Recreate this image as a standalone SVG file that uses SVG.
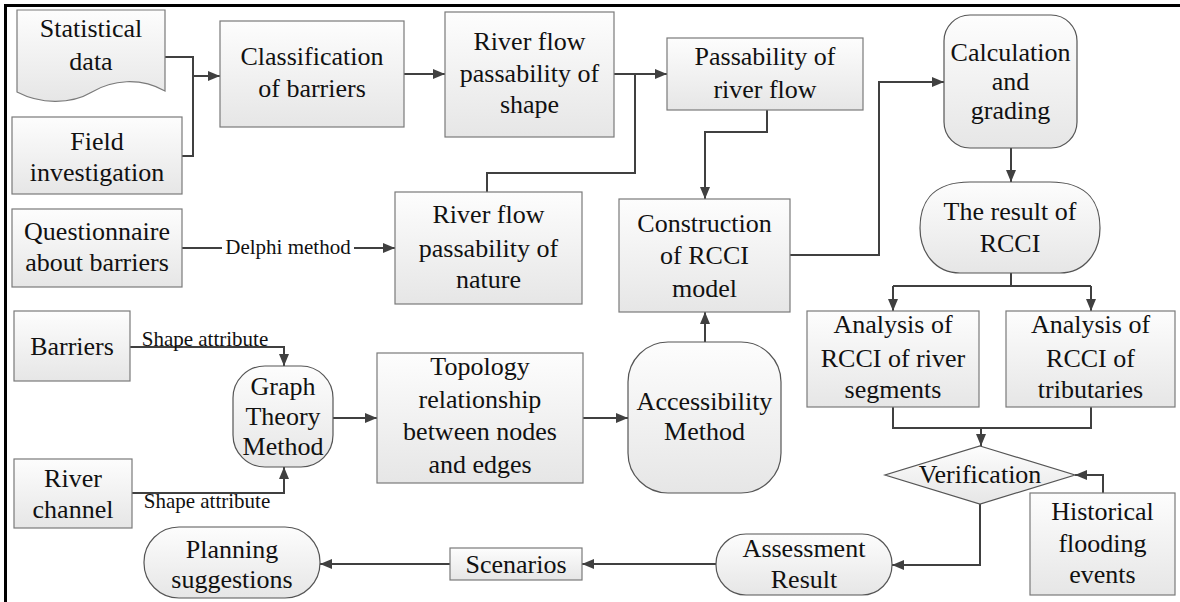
<svg xmlns="http://www.w3.org/2000/svg" width="1180" height="602" viewBox="0 0 1180 602" font-family="Liberation Serif, Times New Roman, serif">
<defs>
<linearGradient id="g" x1="0" y1="0" x2="0" y2="1">
<stop offset="0" stop-color="#fdfdfd"/>
<stop offset="1" stop-color="#e6e6e6"/>
</linearGradient>
<marker id="ah" viewBox="0 0 12 10" refX="12" refY="5" markerUnits="userSpaceOnUse" markerWidth="12" markerHeight="10" orient="auto">
<path d="M0,0 L12,5 L0,10 Z" fill="#404040"/>
</marker>
<style>
.box{fill:url(#g);stroke:#7a7a7a;stroke-width:1.2}
.rbox{fill:url(#g);stroke:#555;stroke-width:1.2}
.con{fill:none;stroke:#404040;stroke-width:2}
.arr{marker-end:url(#ah)}
</style>
</defs>
<rect width="1180" height="602" fill="#fff"/>
<path d="M5.5,602 V5.5 H1180" fill="none" stroke="#000" stroke-width="3"/>

<g id="connectors" font-size="21" fill="#111" text-anchor="middle">
<path class="con" d="M165,57 H193 V156 H182"/>
<path class="con arr" d="M193,76 H220"/>
<path class="con arr" d="M404,74 H445"/>
<path class="con arr" d="M614,74 H667"/>
<path class="con" d="M487,192 V173 H635 V74"/>
<path class="con arr" d="M767,110 V132 H705 V199"/>
<path class="con arr" d="M790,255 H879 V82 H944"/>
<path class="con arr" d="M1011,148 V182"/>
<path class="con" d="M1011,273 V286 M893,286 H1091"/>
<path class="con arr" d="M893,286 V311"/>
<path class="con arr" d="M1091,286 V311"/>
<path class="con" d="M893,407 V428 H1091 V407"/>
<path class="con arr" d="M981,428 V446"/>
<path class="con arr" d="M1103,493 V475 H1075"/>
<path class="con arr" d="M980,504 V565 H892"/>
<path class="con arr" d="M716,564 H582"/>
<path class="con arr" d="M450,564 H320"/>
<path class="con arr" d="M182,248 H395"/>
<rect x="222" y="232" width="132" height="26" fill="#fff"/>
<text x="288" y="254" style="font-family:'Liberation Serif',serif !important">Delphi method</text>
<path class="con arr" d="M130,347 H284 V366"/>
<rect x="142" y="328" width="127" height="18" fill="#fff"/>
<text x="205" y="346" style="font-family:'Liberation Serif',serif !important">Shape attribute</text>
<path class="con arr" d="M132,493 H284 V467"/>
<rect x="146" y="494" width="123" height="20" fill="#fff"/>
<text x="207" y="508" style="font-family:'Liberation Serif',serif !important">Shape attribute</text>
<path class="con arr" d="M333,418 H377"/>
<path class="con arr" d="M583,418 H628"/>
<path class="con arr" d="M705,342 V312"/>
</g>

<g id="nodes" font-size="26" fill="#111" text-anchor="middle">
<g id="statistical-data">
<path class="box" d="M17,10 H165 V91 C140,77 112,80 92,92 C70,105 40,104 17,92 Z"/>
<text x="91" y="37" style="font-family:'Liberation Serif',serif !important">Statistical</text>
<text x="91" y="70" style="font-family:'Liberation Serif',serif !important">data</text>
</g>
<g id="field-investigation">
<rect class="box" x="12" y="117" width="170" height="77"/>
<text x="97" y="150" style="font-family:'Liberation Serif',serif !important">Field</text>
<text x="97" y="181" style="font-family:'Liberation Serif',serif !important">investigation</text>
</g>
<g id="classification">
<rect class="box" x="220" y="21" width="184" height="106"/>
<text x="312" y="65" style="font-family:'Liberation Serif',serif !important">Classification</text>
<text x="312" y="97" style="font-family:'Liberation Serif',serif !important">of barriers</text>
</g>
<g id="flow-shape">
<rect class="box" x="445" y="12" width="169" height="125"/>
<text x="529.5" y="50" style="font-family:'Liberation Serif',serif !important">River flow</text>
<text x="529.5" y="82" style="font-family:'Liberation Serif',serif !important">passability of</text>
<text x="529.5" y="113" style="font-family:'Liberation Serif',serif !important">shape</text>
</g>
<g id="passability">
<rect class="box" x="667" y="38" width="196" height="72"/>
<text x="765" y="65" style="font-family:'Liberation Serif',serif !important">Passability of</text>
<text x="765" y="98" style="font-family:'Liberation Serif',serif !important">river flow</text>
</g>
<g id="calculation">
<rect class="rbox" x="944" y="15" width="133" height="133" rx="26"/>
<text x="1010.5" y="61" style="font-family:'Liberation Serif',serif !important">Calculation</text>
<text x="1010.5" y="90" style="font-family:'Liberation Serif',serif !important">and</text>
<text x="1010.5" y="119" style="font-family:'Liberation Serif',serif !important">grading</text>
</g>
<g id="questionnaire">
<rect class="box" x="12" y="209" width="170" height="78"/>
<text x="97" y="240" style="font-family:'Liberation Serif',serif !important">Questionnaire</text>
<text x="97" y="271" style="font-family:'Liberation Serif',serif !important">about barriers</text>
</g>
<g id="flow-nature">
<rect class="box" x="395" y="192" width="187" height="112"/>
<text x="488.5" y="223" style="font-family:'Liberation Serif',serif !important">River flow</text>
<text x="488.5" y="257" style="font-family:'Liberation Serif',serif !important">passability of</text>
<text x="488.5" y="288" style="font-family:'Liberation Serif',serif !important">nature</text>
</g>
<g id="construction">
<rect class="box" x="619" y="199" width="171" height="113"/>
<text x="704.5" y="232" style="font-family:'Liberation Serif',serif !important">Construction</text>
<text x="704.5" y="264" style="font-family:'Liberation Serif',serif !important">of RCCI</text>
<text x="704.5" y="297" style="font-family:'Liberation Serif',serif !important">model</text>
</g>
<g id="result">
<path class="rbox" d="M970,182 H1050 C1090,182 1100,205 1100,228 C1100,252 1085,273 1060,273 H960 C935,273 920,252 920,228 C920,205 930,182 970,182 Z"/>
<text x="1010" y="220" style="font-family:'Liberation Serif',serif !important">The result of</text>
<text x="1010" y="252" style="font-family:'Liberation Serif',serif !important">RCCI</text>
</g>
<g id="analysis-segments">
<rect class="box" x="807" y="311" width="172" height="96"/>
<text x="893" y="333" style="font-family:'Liberation Serif',serif !important">Analysis of</text>
<text x="893" y="367" style="font-family:'Liberation Serif',serif !important">RCCI of river</text>
<text x="893" y="398" style="font-family:'Liberation Serif',serif !important">segments</text>
</g>
<g id="analysis-tributaries">
<rect class="box" x="1006" y="311" width="169" height="96"/>
<text x="1090.5" y="333" style="font-family:'Liberation Serif',serif !important">Analysis of</text>
<text x="1090.5" y="367" style="font-family:'Liberation Serif',serif !important">RCCI of</text>
<text x="1090.5" y="398" style="font-family:'Liberation Serif',serif !important">tributaries</text>
</g>
<g id="barriers">
<rect class="box" x="14" y="311" width="116" height="70"/>
<text x="72" y="355" style="font-family:'Liberation Serif',serif !important">Barriers</text>
</g>
<g id="river-channel">
<rect class="box" x="14" y="459" width="118" height="69"/>
<text x="73" y="487" style="font-family:'Liberation Serif',serif !important">River</text>
<text x="73" y="518" style="font-family:'Liberation Serif',serif !important">channel</text>
</g>
<g id="graph-theory">
<rect class="rbox" x="233" y="366" width="100" height="101" rx="32"/>
<text x="283" y="395" style="font-family:'Liberation Serif',serif !important">Graph</text>
<text x="283" y="425" style="font-family:'Liberation Serif',serif !important">Theory</text>
<text x="283" y="455" style="font-family:'Liberation Serif',serif !important">Method</text>
</g>
<g id="topology">
<rect class="box" x="377" y="353" width="206" height="130"/>
<text x="480" y="375" style="font-family:'Liberation Serif',serif !important">Topology</text>
<text x="480" y="408" style="font-family:'Liberation Serif',serif !important">relationship</text>
<text x="480" y="440" style="font-family:'Liberation Serif',serif !important">between nodes</text>
<text x="480" y="473" style="font-family:'Liberation Serif',serif !important">and edges</text>
</g>
<g id="accessibility">
<rect class="rbox" x="628" y="342" width="153" height="151" rx="40"/>
<text x="704.5" y="410" style="font-family:'Liberation Serif',serif !important">Accessibility</text>
<text x="704.5" y="440" style="font-family:'Liberation Serif',serif !important">Method</text>
</g>
<g id="verification">
<path class="rbox" d="M980,446 L1075,475 L980,504 L885,475 Z"/>
<text x="980" y="483" style="font-family:'Liberation Serif',serif !important">Verification</text>
</g>
<g id="historical">
<rect class="box" x="1030" y="493" width="145" height="102"/>
<text x="1102.5" y="520" style="font-family:'Liberation Serif',serif !important">Historical</text>
<text x="1102.5" y="552" style="font-family:'Liberation Serif',serif !important">flooding</text>
<text x="1102.5" y="583" style="font-family:'Liberation Serif',serif !important">events</text>
</g>
<g id="assessment">
<rect class="rbox" x="716" y="534" width="176" height="61" rx="30"/>
<text x="804" y="557" style="font-family:'Liberation Serif',serif !important">Assessment</text>
<text x="804" y="588" style="font-family:'Liberation Serif',serif !important">Result</text>
</g>
<g id="scenarios">
<rect class="box" x="450" y="548" width="132" height="32"/>
<text x="516" y="573" style="font-family:'Liberation Serif',serif !important">Scenarios</text>
</g>
<g id="planning">
<rect class="rbox" x="144" y="527" width="176" height="71" rx="35"/>
<text x="232" y="558" style="font-family:'Liberation Serif',serif !important">Planning</text>
<text x="232" y="588" style="font-family:'Liberation Serif',serif !important">suggestions</text>
</g>
</g>
</svg>
